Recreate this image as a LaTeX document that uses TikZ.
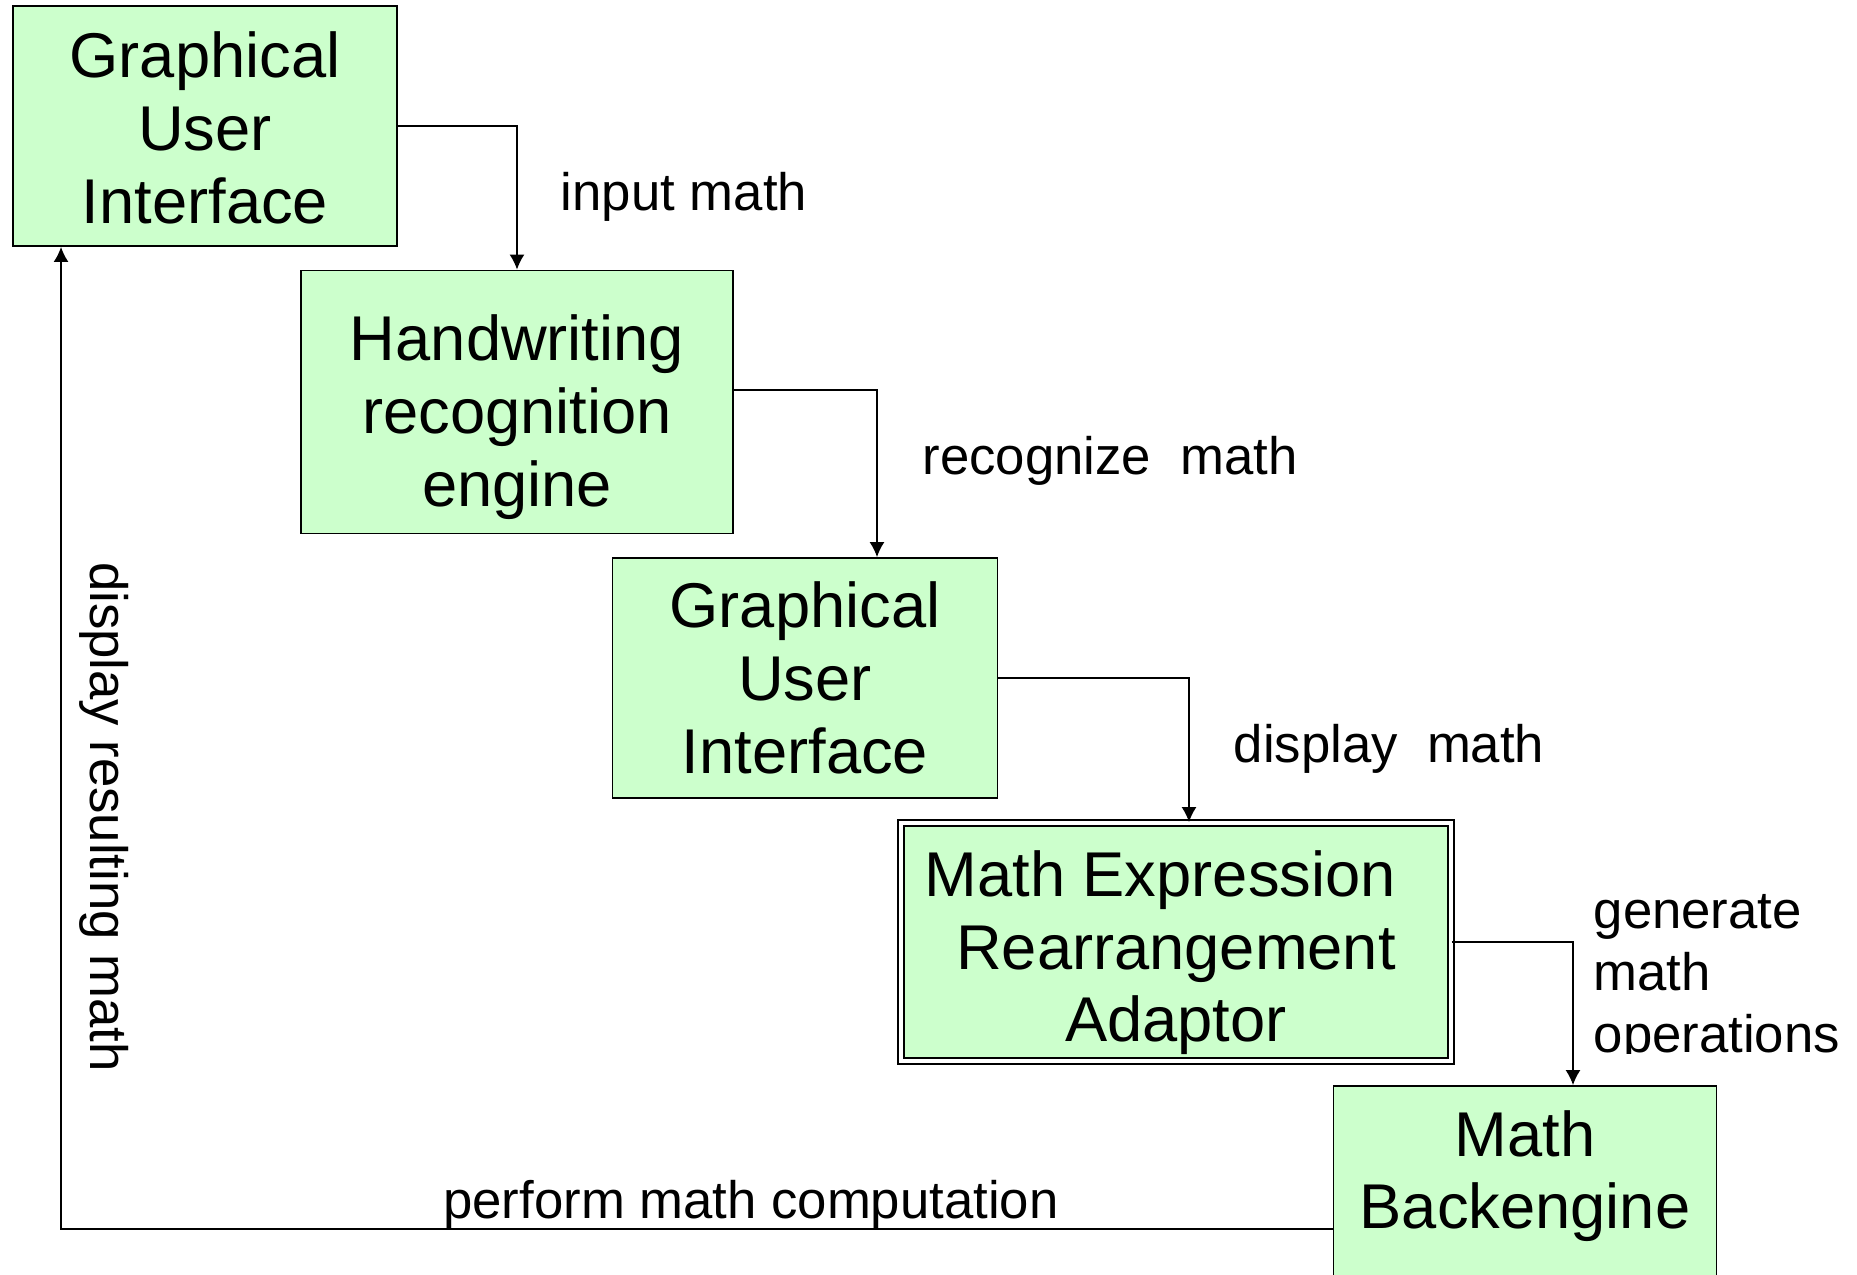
\documentclass[tikz,border=0pt]{standalone}
\usepackage{fontspec}
\setmainfont{Liberation Sans}
\usetikzlibrary{arrows.meta}
\definecolor{boxgreen}{HTML}{CCFFCC}
\tikzstyle{block}=[rectangle,draw,line width=0.55pt,fill=boxgreen,align=center,inner sep=0pt,font=\fontsize{18}{20.7}\selectfont]
\tikzstyle{lbl}=[inner sep=0pt,font=\fontsize{15}{17.6}\selectfont]
\tikzstyle{flow}=[-{Latex[length=1.5mm,width=1.5mm]},line width=0.42pt]

\begin{document}
\begin{tikzpicture}[x=0.1mm,y=-0.1mm]
        \useasboundingbox (0,0) rectangle (1857,1274);
        \clip (0,0) rectangle (1857,1274);
        % the stages
        \node[block,minimum width=3.84cm,minimum height=2.4cm,text height=55.5pt] (gui) at (205,126) {Graphical\\User\\Interface};
        \node[block,minimum width=4.32cm,minimum height=2.63cm,text height=63pt] (hre) at (517,402) {Handwriting\\recognition\\engine};
        \node[block,minimum width=3.85cm,minimum height=2.4cm] (guiout) at (805,678) {Graphical\\User\\Interface};
        \node[block,double,double distance=1.2pt,minimum width=5.5cm,minimum height=2.38cm,text height=60.5pt] (mera) at (1176,942) {Math Expression\hspace*{.5em}\\Rearrangement\\Adaptor};
        \node[block,minimum width=3.83cm,minimum height=2.4cm] (mb) at (1525,1206) {Math\\Backengine\\\mbox{}};
        % labels
        \node[lbl] (inlbl) at (684,197) {input math};
        \node[lbl] (reclbl) at (1110,461) {recognize\ \ math};
        \node[lbl] (displbl) at (1389,749) {display\ \ math};
        \begin{scope}
        \clip (1580,870) rectangle (1857,1053);
        \node[lbl,align=left,anchor=base west] (genlbl) at (1593,1052) {generate\\math\\operations};
        \end{scope}
        \node[lbl] (perflbl) at (751,1205) {perform math computation};
        \node[lbl,rotate=-90] (reslbl) at (104,817) {display resulting math};
        % connectors
        \draw[flow] (gui.east) -| (hre.north);
        \draw[flow] ([yshift=0.12cm]hre.east) -| ([xshift=0.72cm]guiout.north);
        \draw[flow] (guiout.east) -| ([xshift=0.13cm]mera.north);
        \draw[flow] (mera.east) -| ([xshift=0.48cm]mb.north);
        \draw[flow] ([yshift=-0.23cm]mb.west) -| ([xshift=0.49cm]gui.south west);
\end{tikzpicture}
\end{document}
